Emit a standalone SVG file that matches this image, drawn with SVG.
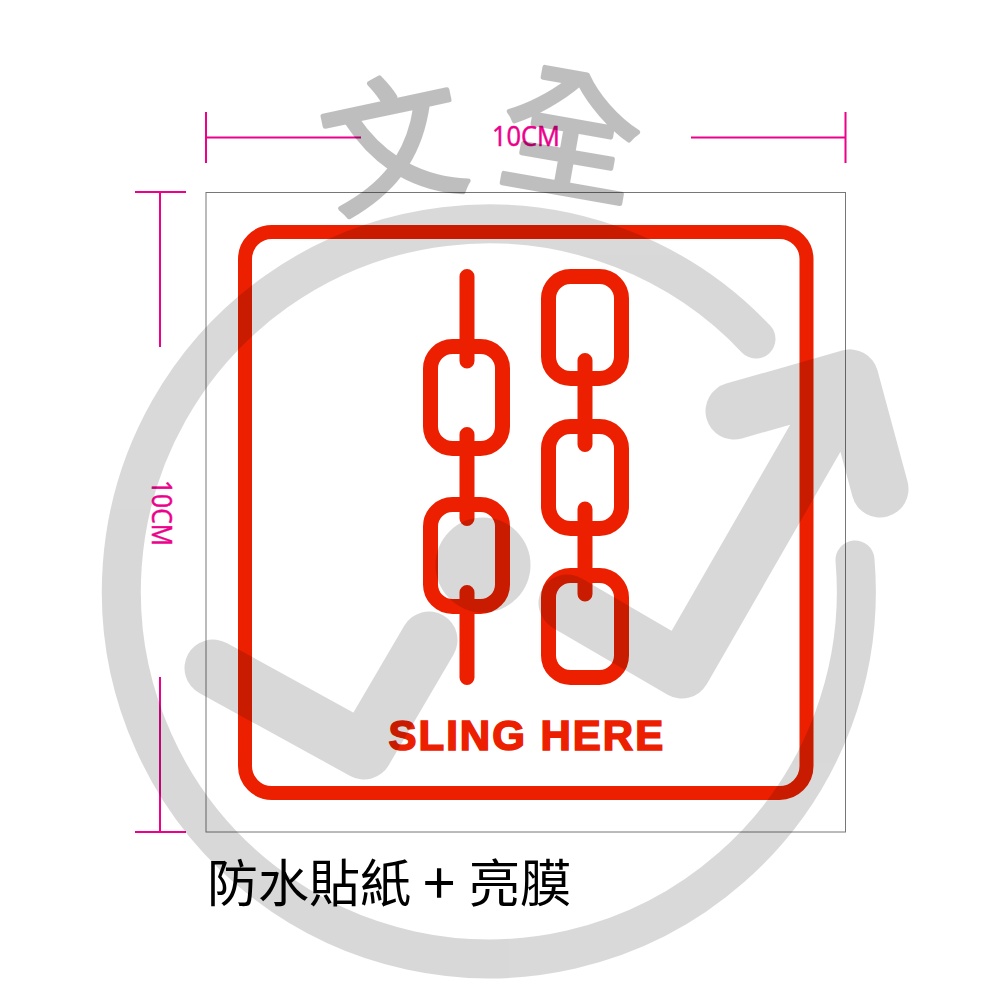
<svg xmlns="http://www.w3.org/2000/svg" width="1000" height="1000" viewBox="0 0 1000 1000">
<style>
.dim{stroke:#ec008c;stroke-width:2;fill:none}
.red{stroke:#ec2000;stroke-width:15;fill:none;stroke-linecap:round}
.dimt{font-family:"Open Sans","Noto Sans",sans-serif;font-size:28px;fill:#ec008c;stroke:#ec008c;stroke-width:.5}
.wm{font-family:"Noto Sans CJK TC","Noto Sans CJK SC",sans-serif;font-size:140px;fill:#000;stroke:#000;stroke-width:5;stroke-linejoin:round}
.ring{stroke:#000;fill:none;stroke-linecap:round;stroke-linejoin:round}
</style>
<rect width="1000" height="1000" fill="#fff"/>
<g id="frame"><rect x="206" y="192.500" width="639.500" height="639.500" fill="none" stroke="#777" stroke-width="1"/></g>
<g id="dimensions">
<path class="dim" d="M206 112V163M206 137.500H361M691 137.500H845.500M845.500 112V163M135 192H186M160 192V347M160 677V832M135 832H186"/>
<text class="dimt" x="492" y="146" textLength="68" lengthAdjust="spacingAndGlyphs">10CM</text>
<text class="dimt" transform="translate(152 480) rotate(90)" textLength="66" lengthAdjust="spacingAndGlyphs">10CM</text>
</g>
<g id="sign">
<rect x="245" y="232" width="561.500" height="561" rx="27" fill="none" stroke="#ec2000" stroke-width="14"/>
<g id="chain-left">
<path class="red" d="M467 276.500V361M467 434.500V518.500M467 592.500V677.500"/>
<rect class="red" x="430.500" y="346.500" width="72" height="102" rx="22"/>
<rect class="red" x="430.500" y="504.500" width="72" height="102" rx="22"/>
</g>
<g id="chain-right">
<path class="red" d="M585 360.500V444.500M585 509V594"/>
<rect class="red" x="548.500" y="276.500" width="73" height="102" rx="22"/>
<rect class="red" x="548.500" y="426.500" width="73" height="102" rx="22"/>
<rect class="red" x="548.500" y="575.500" width="73" height="102" rx="22"/>
</g>
<text x="388.500" y="750" font-family="'Liberation Sans',Arial,sans-serif" font-weight="700" font-size="42" letter-spacing="2" fill="#ec2000" stroke="#ec2000" stroke-width="1.600">SLING HERE</text>
</g>
<g id="caption"><text y="902" font-family="'Noto Sans CJK TC','Noto Sans CJK SC',sans-serif" font-size="51" fill="#000"><tspan x="207">防水貼紙</tspan><tspan x="423" y="904" font-size="58">+</tspan><tspan x="469" y="902">亮膜</tspan></text></g>
<g id="watermark-mark" opacity="0.15">
<path class="ring" stroke-width="39" d="M756 339A367.500 367.500 0 1 0 855 560"/>
<circle cx="483" cy="565" r="47.500" fill="#000"/>
<path class="ring" stroke-width="57" d="M213 668L364 751L429 640"/>
<path class="ring" stroke-width="57" d="M567 603L682 670L850 378M734 411L850 378L880 489"/>
</g>
<g id="watermark-text" opacity="0.25">
<text class="wm" transform="translate(404 194) rotate(-12)" text-anchor="middle">文</text>
<text class="wm" transform="translate(562 186) rotate(10)" text-anchor="middle">全</text>
</g>
</svg>
